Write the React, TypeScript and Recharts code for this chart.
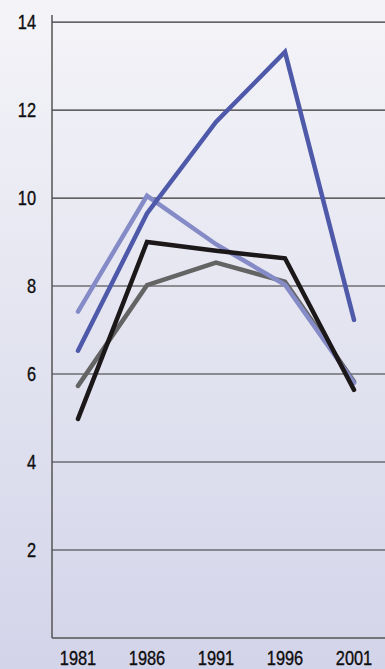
import React from "react";
import {
  LineChart,
  Line,
  XAxis,
  YAxis,
  CartesianGrid,
} from "recharts";

// census years along the bottom
const years = ["1981", "1986", "1991", "1996", "2001"];

// one small array per series, values read at each census year
const darkBlue = [6.53, 9.65, 11.73, 13.32, 7.23];
const lightBlue = [7.42, 10.05, 8.95, 8.03, 5.8];
const grey = [5.73, 8.02, 8.53, 8.1, 5.83];
const black = [4.98, 9.0, 8.8, 8.63, 5.64];

const yTicks = [2, 4, 6, 8, 10, 12, 14];

const data = years.map((year, i) => ({
  year,
  darkBlue: darkBlue[i],
  lightBlue: lightBlue[i],
  grey: grey[i],
  black: black[i],
}));

const FONT = '"Liberation Sans", Arial, sans-serif';

// narrow label: regular sans squeezed horizontally, thin stroke for weight
const NarrowTick = ({ x, y, payload, anchor, dy }: any) => (
  <g transform={`translate(${x},${y})`}>
    <text
      transform="scale(0.82,1)"
      textAnchor={anchor}
      dy={dy}
      fill="#0d0d0d"
      stroke="#0d0d0d"
      strokeWidth={0.35}
      fontSize={20}
      fontFamily={FONT}
    >
      {payload.value}
    </text>
  </g>
);

const App: React.FC = () => {
  return (
    <div
      style={{
        position: "fixed",
        top: 0,
        left: 0,
        width: 385,
        height: 669,
        background: "linear-gradient(to bottom, #f4f4f8 0%, #d3d4e9 100%)",
        overflow: "hidden",
      }}
    >
      <LineChart
        width={385}
        height={669}
        data={data}
        margin={{ top: 15, right: 0, bottom: 0, left: 0 }}
      >
        <CartesianGrid
          vertical={false}
          stroke="#333"
          strokeWidth={1.2}
          horizontalValues={yTicks}
        />
        <XAxis
          dataKey="year"
          height={31}
          padding={{ left: 26, right: 31 }}
          tickLine={false}
          tickSize={0}
          tickMargin={13}
          axisLine={{ stroke: "#555", strokeWidth: 1.5 }}
          tick={(props: any) => <NarrowTick {...props} anchor="middle" dy={14} />}
        />
        <YAxis
          width={52}
          domain={[0, 14.16]}
          ticks={yTicks}
          interval={0}
          tickLine={false}
          tickSize={0}
          tickMargin={16}
          axisLine={{ stroke: "#555", strokeWidth: 1.5 }}
          tick={(props: any) => <NarrowTick {...props} anchor="end" dy={7} />}
        />
        <Line
          dataKey="grey"
          stroke="#646464"
          strokeWidth={4.5}
          strokeLinecap="round"
          dot={false}
          isAnimationActive={false}
        />
        <Line
          dataKey="lightBlue"
          stroke="#858bc6"
          strokeWidth={4.5}
          strokeLinecap="round"
          dot={false}
          isAnimationActive={false}
        />
        <Line
          dataKey="darkBlue"
          stroke="#4e59aa"
          strokeWidth={4.5}
          strokeLinecap="round"
          dot={false}
          isAnimationActive={false}
        />
        <Line
          dataKey="black"
          stroke="#1c1819"
          strokeWidth={4.5}
          strokeLinecap="round"
          dot={false}
          isAnimationActive={false}
        />
      </LineChart>
    </div>
  );
};

export default App;
